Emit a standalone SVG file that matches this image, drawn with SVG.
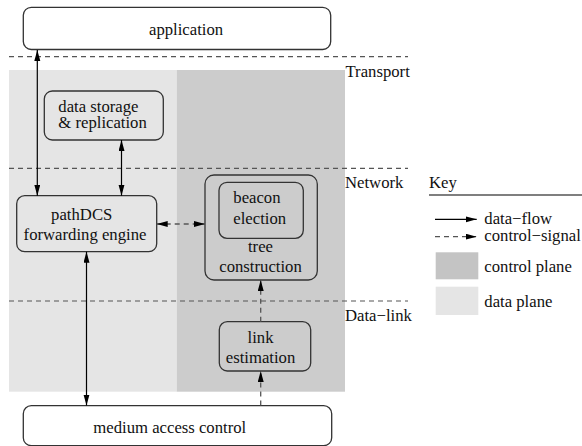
<svg xmlns="http://www.w3.org/2000/svg" width="582" height="446" viewBox="0 0 582 446" font-family="Liberation Serif, Times New Roman, serif" font-size="16.7">
<defs>
<marker id="ah" markerUnits="userSpaceOnUse" markerWidth="12" markerHeight="7" refX="11" refY="3" orient="auto-start-reverse">
<path d="M0,0 L11,3 L0,6 z" fill="#000"/>
</marker>
<style>
text{font-family:'Liberation Serif',serif;fill:#111}
.box{stroke:#333;stroke-width:1.3}
.layer{stroke:#555;stroke-width:1.2;stroke-dasharray:5,4;fill:none}
.flow{stroke:#000;stroke-width:1.2;fill:none}
.ctl{stroke:#555;stroke-width:1.3;stroke-dasharray:5,4;fill:none}
.c{text-anchor:middle}
</style>
</defs>
<rect width="582" height="446" fill="#fff"/>
<g id="planes">
<rect x="9" y="70" width="167.7" height="321.7" fill="#e5e5e5"/>
<rect x="176.7" y="70" width="168.3" height="321.7" fill="#cccccc"/>
</g>
<g id="layers">
<line class="layer" x1="9" y1="56.7" x2="408" y2="56.7"/>
<line class="layer" x1="9" y1="168.3" x2="408" y2="168.3"/>
<line class="layer" x1="9" y1="301" x2="408" y2="301"/>
<text x="345.5" y="77">Transport</text>
<text x="345" y="188">Network</text>
<text x="345" y="321">Data−link</text>
</g>
<g id="application">
<rect class="box" x="23.3" y="7.3" width="307.4" height="42.2" rx="8" fill="#fff"/>
<text x="149" y="35">application</text>
</g>
<g id="storage">
<rect class="box" x="44.3" y="91" width="119" height="49" rx="8" fill="#e5e5e5"/>
<text x="58.3" y="111.7">data storage</text>
<text x="58.3" y="128">&amp; replication</text>
</g>
<g id="pathdcs">
<rect class="box" x="16.7" y="195.7" width="140" height="56" rx="8" fill="#e5e5e5"/>
<text class="c" x="81.7" y="220">pathDCS</text>
<text class="c" x="85" y="240">forwarding engine</text>
</g>
<g id="tree">
<rect class="box" x="205" y="175" width="112.3" height="105" rx="9" fill="#cccccc"/>
<text class="c" x="260.5" y="251.7">tree</text>
<text class="c" x="260.5" y="271.7">construction</text>
</g>
<g id="beacon">
<rect class="box" x="219" y="182.3" width="84.3" height="56" rx="8" fill="#cccccc"/>
<text x="233.3" y="203.3">beacon</text>
<text x="233.3" y="224">election</text>
</g>
<g id="link">
<rect class="box" x="219.3" y="321.7" width="91.4" height="49.3" rx="8" fill="#cccccc"/>
<text class="c" x="260.5" y="343.3">link</text>
<text class="c" x="260.5" y="363.3">estimation</text>
</g>
<g id="mac">
<rect class="box" x="23.3" y="405.7" width="308.4" height="40" rx="8" fill="#fff"/>
<text x="93.3" y="433.3">medium access control</text>
</g>
<g id="connectors">
<line class="flow" x1="37.3" y1="50" x2="37.3" y2="195.7" marker-start="url(#ah)" marker-end="url(#ah)"/>
<line class="flow" x1="121.5" y1="140" x2="121.5" y2="195.7" marker-start="url(#ah)" marker-end="url(#ah)"/>
<line class="flow" x1="86.5" y1="251.7" x2="86.5" y2="405.5" marker-start="url(#ah)" marker-end="url(#ah)"/>
<line class="ctl" x1="156.7" y1="224" x2="205" y2="224" marker-start="url(#ah)" marker-end="url(#ah)"/>
<line class="ctl" x1="260.7" y1="321.7" x2="260.7" y2="280" marker-end="url(#ah)"/>
<line class="ctl" x1="260.7" y1="405.5" x2="260.7" y2="371" marker-end="url(#ah)"/>
</g>
<g id="key">
<text x="429" y="188.3">Key</text>
<line x1="429" y1="195" x2="582" y2="195" stroke="#000" stroke-width="1.2"/>
<line class="flow" x1="435" y1="219.3" x2="476.7" y2="219.3" marker-end="url(#ah)"/>
<text x="484.3" y="224">data−flow</text>
<line class="ctl" x1="435" y1="236.7" x2="476.7" y2="236.7" marker-end="url(#ah)"/>
<text x="484.3" y="241">control−signal</text>
<rect x="435.7" y="252.3" width="42.6" height="27" fill="#c4c4c4"/>
<text x="484.3" y="271.7">control plane</text>
<rect x="435.7" y="286.7" width="42.6" height="28.3" fill="#e5e5e5"/>
<text x="484.3" y="306.7">data plane</text>
</g>
</svg>
